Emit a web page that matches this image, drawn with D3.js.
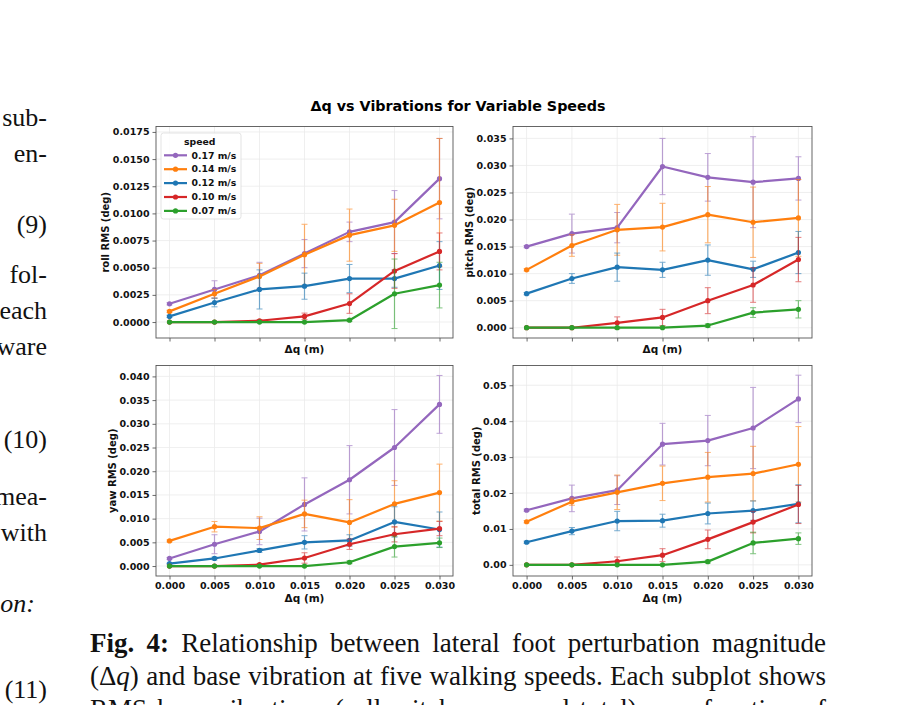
<!DOCTYPE html>
<html>
<head>
<meta charset="utf-8">
<script src="https://cdn.jsdelivr.net/npm/d3@7"></script>
<style>
body { margin: 0; background: #fff; }
svg { display: block; }
</style>
</head>
<body>
<div id="chart"></div>
<script>
// x values (perturbation size, m)
var deltaQ = [0, 0.005, 0.010, 0.015, 0.020, 0.025, 0.030];
var speeds = ["0.17 m/s", "0.14 m/s", "0.12 m/s", "0.10 m/s", "0.07 m/s"];
var speedColors = ["#9467bd", "#ff7f0e", "#1f77b4", "#d62728", "#2ca02c"];

// one row per speed, same order as speeds
var rollMean = [
  [0.00168, 0.0030, 0.0043, 0.0063, 0.0083, 0.0092, 0.0132],
  [0.00098, 0.0026, 0.0042, 0.0062, 0.0080, 0.0089, 0.0110],
  [0.00052, 0.0018, 0.0030, 0.0033, 0.0040, 0.0040, 0.0052],
  [0, 0, 0.00012, 0.00052, 0.0017, 0.0047, 0.0065],
  [0, 0, 0, 0, 0.00017, 0.0026, 0.0034]
];
var rollErr = [
  [0.0001, 0.0008, 0.0012, 0.0013, 0.0009, 0.0029, 0.0037],
  [0.0001, 0.0004, 0.0012, 0.0028, 0.0024, 0.0024, 0.0059],
  [0.0001, 0.0004, 0.0018, 0.0012, 0.0013, 0.0008, 0.0022],
  [0, 0, 0.0001, 0.0003, 0.0009, 0.0016, 0.0017],
  [0, 0, 0, 0, 0.0001, 0.0032, 0.0021]
];
var pitchMean = [
  [0.0150, 0.0174, 0.0185, 0.0298, 0.0278, 0.0269, 0.0276],
  [0.0107, 0.0152, 0.0181, 0.0186, 0.0209, 0.0195, 0.0203],
  [0.0063, 0.0091, 0.0112, 0.0107, 0.0125, 0.0108, 0.0139],
  [0, 0, 0.0009, 0.0019, 0.0050, 0.0079, 0.0126],
  [0, 0, 0, 0, 0.0004, 0.0028, 0.0034]
];
var pitchErr = [
  [0.0002, 0.0036, 0.0028, 0.0052, 0.0044, 0.0084, 0.0040],
  [0.0002, 0.0020, 0.0047, 0.0044, 0.0052, 0.0065, 0.0071],
  [0.0002, 0.0009, 0.0026, 0.0014, 0.0028, 0.0015, 0.0039],
  [0, 0, 0.0011, 0.0015, 0.0024, 0.0032, 0.0041],
  [0, 0, 0, 0, 0.0003, 0.0009, 0.0016]
];
var yawMean = [
  [0.0016, 0.0046, 0.0073, 0.0130, 0.0182, 0.0250, 0.0341],
  [0.0053, 0.0083, 0.0080, 0.0110, 0.0092, 0.0131, 0.0155],
  [0.0005, 0.0016, 0.0033, 0.0050, 0.0054, 0.0093, 0.0077],
  [0, 0, 0.0003, 0.0017, 0.0046, 0.0067, 0.0079],
  [0, 0, 0, 0, 0.0008, 0.0041, 0.0049]
];
var yawErr = [
  [0.0002, 0.0020, 0.0028, 0.0056, 0.0072, 0.0080, 0.0061],
  [0.0002, 0.0011, 0.0024, 0.0029, 0.0048, 0.0049, 0.0060],
  [0.0001, 0.0003, 0.0004, 0.0014, 0.0012, 0.0032, 0.0037],
  [0, 0, 0.0002, 0.0011, 0.0011, 0.0016, 0.0015],
  [0, 0, 0, 0, 0.0003, 0.0022, 0.0010]
];
var totalMean = [
  [0.0152, 0.0185, 0.0208, 0.0336, 0.0346, 0.0381, 0.0462],
  [0.0120, 0.0176, 0.0202, 0.0227, 0.0244, 0.0254, 0.0280],
  [0.0063, 0.0094, 0.0122, 0.0123, 0.0143, 0.0151, 0.0170],
  [0, 0, 0.0010, 0.0027, 0.0071, 0.0119, 0.0168],
  [0, 0, 0, 0, 0.0009, 0.0061, 0.0073]
];
var totalErr = [
  [0.0003, 0.0037, 0.0040, 0.0058, 0.0070, 0.0113, 0.0066],
  [0.0003, 0.0010, 0.0048, 0.0048, 0.0069, 0.0076, 0.0105],
  [0.0003, 0.0010, 0.0027, 0.0018, 0.0029, 0.0027, 0.0053],
  [0, 0, 0.0012, 0.0018, 0.0026, 0.0030, 0.0053],
  [0, 0, 0, 0, 0.0004, 0.0030, 0.0016]
];

var xTicks = [0, 0.005, 0.010, 0.015, 0.020, 0.025, 0.030];
var rollTicks = [0, 0.0025, 0.005, 0.0075, 0.01, 0.0125, 0.015, 0.0175];
var pitchTicks = [0, 0.005, 0.01, 0.015, 0.02, 0.025, 0.03, 0.035];
var yawTicks = [0, 0.005, 0.01, 0.015, 0.02, 0.025, 0.03, 0.035, 0.04];
var totalTicks = [0, 0.01, 0.02, 0.03, 0.04, 0.05];

var W = 916, H = 705;
var chartFont = "'DejaVu Sans', sans-serif";
var paperFont = "'Liberation Serif', 'Times New Roman', serif";

var svg = d3.select("#chart").append("svg")
    .attr("width", W)
    .attr("height", H);

// panel layout
var panels = [
  {label: "roll RMS (deg)", mean: rollMean, err: rollErr, ticks: rollTicks, fmt: ".4f",
   domain: [-0.00147, 0.0180], left: 156, right: 453, top: 126.5, bottom: 338, xLabels: false, legend: true},
  {label: "pitch RMS (deg)", mean: pitchMean, err: pitchErr, ticks: pitchTicks, fmt: ".3f",
   domain: [-0.0019, 0.0372], left: 513, right: 812, top: 126.5, bottom: 338, xLabels: false},
  {label: "yaw RMS (deg)", mean: yawMean, err: yawErr, ticks: yawTicks, fmt: ".3f",
   domain: [-0.0021, 0.0423], left: 156, right: 453, top: 365.5, bottom: 576, xLabels: true},
  {label: "total RMS (deg)", mean: totalMean, err: totalErr, ticks: totalTicks, fmt: ".2f",
   domain: [-0.0031, 0.0555], left: 513, right: 812, top: 365.5, bottom: 576, xLabels: true}
];

svg.append("text")
    .attr("x", 458)
    .attr("y", 111)
    .attr("text-anchor", "middle")
    .style("font-family", chartFont)
    .style("font-weight", "bold")
    .style("font-size", "14.3px")
    .text("Δq vs Vibrations for Variable Speeds");

panels.forEach(function(p){
    drawPanel(p);
});

function drawPanel(p){
    var x = d3.scaleLinear().domain([-0.0015, 0.0315]).range([p.left, p.right]);
    var y = d3.scaleLinear().domain(p.domain).range([p.bottom, p.top]);
    var g = svg.append("g");

    // grid
    g.selectAll(".gx").data(xTicks).enter().append("line")
        .attr("x1", function(d){ return x(d); }).attr("x2", function(d){ return x(d); })
        .attr("y1", p.top).attr("y2", p.bottom)
        .attr("stroke", "#ebebeb").attr("stroke-width", 0.8);
    g.selectAll(".gy").data(p.ticks).enter().append("line")
        .attr("x1", p.left).attr("x2", p.right)
        .attr("y1", function(d){ return y(d); }).attr("y2", function(d){ return y(d); })
        .attr("stroke", "#ebebeb").attr("stroke-width", 0.8);

    // axes
    var xAxis = d3.axisBottom(x).tickValues(xTicks).tickSize(3.5).tickPadding(2.5)
        .tickFormat(p.xLabels ? d3.format(".3f") : "");
    var gx = g.append("g")
        .attr("transform", "translate(0," + p.bottom + ")")
        .call(xAxis);
    var yAxis = d3.axisLeft(y).tickValues(p.ticks).tickSize(3.5).tickPadding(3)
        .tickFormat(d3.format(p.fmt));
    var gy = g.append("g")
        .attr("transform", "translate(" + p.left + ",0)")
        .call(yAxis);
    [gx, gy].forEach(function(a){
        a.select(".domain").remove();
        a.selectAll(".tick line").attr("stroke", "#444").attr("stroke-width", 0.8);
        a.selectAll("text")
            .style("font-family", chartFont)
            .style("font-weight", "bold")
            .style("font-size", "9.5px")
            .attr("fill", "#111");
    });

    // series, legend order
    var clipId = "clip" + p.left + "_" + Math.round(p.top);
    svg.append("clipPath").attr("id", clipId).append("rect")
        .attr("x", p.left).attr("y", p.top)
        .attr("width", p.right - p.left).attr("height", p.bottom - p.top);
    var plot = g.append("g").attr("clip-path", "url(#" + clipId + ")");

    var line = d3.line()
        .x(function(d){ return x(d[0]); })
        .y(function(d){ return y(d[1]); });

    speeds.forEach(function(s, i){
        var pts = deltaQ.map(function(q, j){ return [q, p.mean[i][j], p.err[i][j]]; });
        var col = speedColors[i];
        var eb = plot.append("g").attr("opacity", 0.6);
        pts.forEach(function(d){
            if (d[2] <= 0) return;
            var cx = x(d[0]), y0 = y(d[1] - d[2]), y1 = y(d[1] + d[2]);
            eb.append("line").attr("x1", cx).attr("x2", cx).attr("y1", y0).attr("y2", y1)
                .attr("stroke", col).attr("stroke-width", 1.2);
            eb.append("line").attr("x1", cx - 3).attr("x2", cx + 3).attr("y1", y0).attr("y2", y0)
                .attr("stroke", col).attr("stroke-width", 1);
            eb.append("line").attr("x1", cx - 3).attr("x2", cx + 3).attr("y1", y1).attr("y2", y1)
                .attr("stroke", col).attr("stroke-width", 1);
        });
        plot.append("path").datum(pts)
            .attr("d", line)
            .attr("fill", "none")
            .attr("stroke", col)
            .attr("stroke-width", 2.2)
            .attr("stroke-linejoin", "round");
        plot.selectAll(null).data(pts).enter().append("circle")
            .attr("cx", function(d){ return x(d[0]); })
            .attr("cy", function(d){ return y(d[1]); })
            .attr("r", 2.6)
            .attr("fill", col);
    });

    // frame
    g.append("rect")
        .attr("x", p.left).attr("y", p.top)
        .attr("width", p.right - p.left).attr("height", p.bottom - p.top)
        .attr("fill", "none").attr("stroke", "#555").attr("stroke-width", 0.9);

    // axis labels
    var tickW = d3.max(gy.selectAll("text").nodes(), function(n){ return n.getComputedTextLength(); });
    g.append("text")
        .attr("transform", "translate(" + (p.left - tickW - 10) + "," + ((p.top + p.bottom) / 2) + ") rotate(-90)")
        .attr("text-anchor", "middle")
        .style("font-family", chartFont)
        .style("font-weight", "bold")
        .style("font-size", "10px")
        .attr("fill", "#111")
        .text(p.label);
    g.append("text")
        .attr("x", (p.left + p.right) / 2)
        .attr("y", p.bottom + (p.xLabels ? 26 : 15))
        .attr("text-anchor", "middle")
        .style("font-family", chartFont)
        .style("font-weight", "bold")
        .style("font-size", "10.5px")
        .attr("fill", "#111")
        .text("Δq (m)");

    if (p.legend) drawLegend(g, p.left, p.top);
}

function drawLegend(g, left, top){
    var lg = g.append("g").attr("transform", "translate(" + (left + 5) + "," + (top + 6.5) + ")");
    lg.append("rect")
        .attr("width", 80).attr("height", 86).attr("rx", 2.5)
        .attr("fill", "#fff").attr("fill-opacity", 0.85)
        .attr("stroke", "#dcdcdc").attr("stroke-width", 0.8);
    lg.append("text")
        .attr("x", 23).attr("y", 12)
        .style("font-family", chartFont).style("font-weight", "bold").style("font-size", "9.3px")
        .attr("fill", "#111")
        .text("speed");
    var rows = lg.selectAll(".row").data(speeds).enter().append("g")
        .attr("transform", function(d, i){ return "translate(0," + (22.3 + i * 13.9) + ")"; });
    rows.append("line")
        .attr("x1", 3).attr("x2", 26)
        .attr("stroke", function(d, i){ return speedColors[i]; })
        .attr("stroke-width", 2.2);
    rows.append("circle")
        .attr("cx", 14.5).attr("r", 2.6)
        .attr("fill", function(d, i){ return speedColors[i]; });
    rows.append("text")
        .attr("x", 30.5).attr("dy", "0.35em")
        .style("font-family", chartFont).style("font-weight", "bold").style("font-size", "9.3px")
        .attr("fill", "#111")
        .text(function(d){ return d; });
}

// surrounding page text (cropped left column)
var sideLines = [
  ["sub-", 126, 47, false], ["en-", 162, 47, false], ["(9)", 233, 47, false],
  ["fol-", 283, 47, false], ["each", 319, 47, false], ["ware", 355, 47, false],
  ["(10)", 448, 47, false], ["mea-", 505, 47, false], ["with", 541, 47, false],
  ["on:", 612, 35, true], ["(11)", 698, 47, false]
];
svg.selectAll(".side").data(sideLines).enter().append("text")
    .attr("x", function(d){ return d[2]; })
    .attr("y", function(d){ return d[1]; })
    .attr("text-anchor", "end")
    .style("font-family", paperFont)
    .style("font-size", "26px")
    .style("font-style", function(d){ return d[3] ? "italic" : "normal"; })
    .attr("fill", "#111")
    .text(function(d){ return d[0]; });

// caption, justified word by word
var captionLines = [
  [[["Fig.", "b"]], [["4:", "b"]], [["Relationship"]], [["between"]], [["lateral"]], [["foot"]], [["perturbation"]], [["magnitude"]]],
  [[["(Δ"], ["q", "i"], [")"]], [["and"]], [["base"]], [["vibration"]], [["at"]], [["five"]], [["walking"]], [["speeds."]], [["Each"]], [["subplot"]], [["shows"]]],
  [[["RMS"]], [["base"]], [["vibrations"]], [["(roll,"]], [["pitch,"]], [["yaw,"]], [["and"]], [["total)"]], [["as"]], [["a"]], [["function"]], [["of"]]]
];
var capLeft = 90, capRight = 826;
var capBase = [652, 685, 718];

captionLines.forEach(function(words, li){
    var items = words.map(function(w){
        var t = svg.append("text")
            .attr("y", capBase[li])
            .style("font-family", paperFont)
            .style("font-size", "27px")
            .attr("fill", "#111");
        w.forEach(function(part){
            t.append("tspan")
                .style("font-weight", part[1] == "b" ? "bold" : "normal")
                .style("font-style", part[1] == "i" ? "italic" : "normal")
                .text(part[0]);
        });
        return t;
    });
    var widths = items.map(function(t){ return t.node().getComputedTextLength(); });
    var gap = (capRight - capLeft - d3.sum(widths)) / (items.length - 1);
    var cx = capLeft;
    items.forEach(function(t, i){
        t.attr("x", cx);
        cx += widths[i] + gap;
    });
});
</script>
</body>
</html>
